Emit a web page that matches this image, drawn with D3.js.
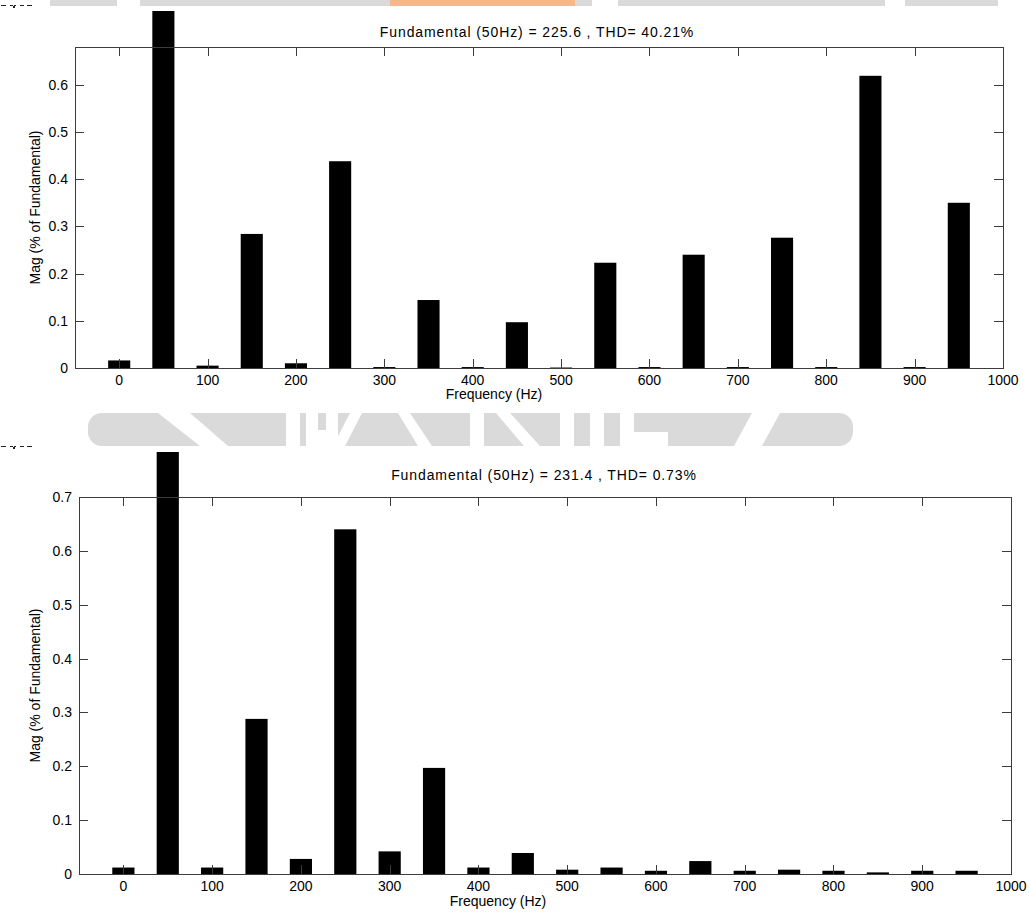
<!DOCTYPE html>
<html>
<head>
<meta charset="utf-8">
<script src="https://cdn.jsdelivr.net/npm/d3@7"></script>
<style>
  html, body { margin: 0; padding: 0; background: #ffffff; }
  svg { display: block; }
  text { font-family: "Liberation Sans", Arial, Helvetica, sans-serif; fill: #000; }
</style>
</head>
<body>
<svg id="chart" width="1029" height="917"></svg>
<script>
// Harmonic spectrum, 0..950 Hz in 50 Hz steps (magnitude as fraction of fundamental)
const frequencies = [0, 50, 100, 150, 200, 250, 300, 350, 400, 450, 500, 550, 600, 650, 700, 750, 800, 850, 900, 950];
const magnitudesBefore = [0.016, 1.0, 0.005, 0.284, 0.010, 0.438, 0.002, 0.144, 0.002, 0.097, 0.001, 0.223, 0.002, 0.240, 0.002, 0.276, 0.002, 0.619, 0.002, 0.350];
const magnitudesAfter = [0.012, 1.0, 0.012, 0.288, 0.028, 0.640, 0.042, 0.197, 0.012, 0.039, 0.008, 0.012, 0.006, 0.024, 0.006, 0.008, 0.006, 0.003, 0.006, 0.006];
const frequencyTicks = [0, 100, 200, 300, 400, 500, 600, 700, 800, 900, 1000];
const magnitudeTicksBefore = [0, 0.1, 0.2, 0.3, 0.4, 0.5, 0.6];
const magnitudeTicksAfter = [0, 0.1, 0.2, 0.3, 0.4, 0.5, 0.6, 0.7];
const titleBefore = "Fundamental (50Hz) = 225.6 , THD= 40.21%";
const titleAfter = "Fundamental (50Hz) = 231.4 , THD= 0.73%";
const xLabelText = "Frequency (Hz)";
const yLabelText = "Mag (% of Fundamental)";
const frequencyDomain = [-50, 1000];
const barWidthHz = 25;

const svg = d3.select("#chart");
const defs = svg.append("defs");

// ---- page background band (journal header strip) ----
const band = svg.append("g").attr("class", "page-band");
band.append("rect").attr("x", 50).attr("y", 0).attr("width", 948).attr("height", 6).attr("fill", "#dadada");
band.append("rect").attr("x", 390).attr("y", 0).attr("width", 185).attr("height", 6).attr("fill", "#f3b98c");
[[117, 23], [592, 26], [885, 20]].forEach(([x, w]) =>
  band.append("rect").attr("x", x).attr("y", 0).attr("width", w).attr("height", 6).attr("fill", "#fff"));

// ---- logo strip between the two figures ----
const logo = svg.append("g").attr("class", "logo-strip");
logo.append("rect").attr("x", 88).attr("y", 413).attr("width", 765).attr("height", 33)
  .attr("rx", 14).attr("fill", "#dadada");
const white = "#ffffff";
const logoShapes = [
  "M158,413 L190,413 L228,446 L200,446 Z",          // diagonal cut
  "M286,413 L300,413 L300,446 L286,446 Z",          // I
  "M306,413 L318,413 L318,430 L326,430 L326,413 L338,413 L338,446 L306,446 Z", // J foot
  "M350,413 L362,413 L345,446 L333,446 Z",          // A left leg
  "M398,413 L410,413 L432,446 L418,446 Z",          // A right leg
  "M470,413 L484,413 L484,446 L470,446 Z",          // R stem
  "M496,413 L510,413 L540,446 L524,446 Z",          // R leg
  "M560,413 L574,413 L574,446 L560,446 Z",          // I
  "M590,413 L604,413 L604,446 L590,446 Z",          // I
  "M620,413 L634,413 L634,432 L668,432 L668,446 L620,446 Z", // E foot
  "M752,413 L780,413 L762,446 L734,446 Z"           // diagonal cut
];
logoShapes.forEach(d => logo.append("path").attr("d", d).attr("fill", white));

// ---- one spectrum panel ----
function drawPanel(cfg) {
  const g = svg.append("g");
  const x = d3.scaleLinear().domain(frequencyDomain).range([cfg.left, cfg.right]);
  const y = d3.scaleLinear().domain([0, cfg.yMax]).range([cfg.bottom, cfg.top]);

  // lower edge of the figure window caption, the rest lies above the window edge
  const cap = g.append("g").attr("fill", "#222");
  [[1, 5], [10, 3], [14, 2], [20, 4], [27, 5]].forEach(([dx, w]) =>
    cap.append("rect").attr("x", dx).attr("y", cfg.captionY).attr("width", w).attr("height", 1));
  cap.append("rect").attr("x", 13).attr("y", cfg.captionY + 1).attr("width", 2).attr("height", 2);

  // bars may run past the axes, up to the figure edge
  const clipId = "fig-" + cfg.id;
  defs.append("clipPath").attr("id", clipId).append("rect")
    .attr("x", 0).attr("y", cfg.figureTop).attr("width", 1029).attr("height", 917);

  g.append("g").attr("clip-path", `url(#${clipId})`)
    .selectAll("rect").data(cfg.values.map((v, i) => ({ f: frequencies[i], v })))
    .join("rect")
    .attr("x", d => x(d.f - barWidthHz / 2))
    .attr("width", d => x(d.f + barWidthHz / 2) - x(d.f - barWidthHz / 2))
    .attr("y", d => y(d.v))
    .attr("height", d => y(0) - y(d.v))
    .attr("fill", "#000");

  const axisColor = "#3c3c3c";
  const tickLen = 9;
  const axes = g.append("g").attr("stroke", axisColor).attr("stroke-width", 1).attr("shape-rendering", "crispEdges");
  // box
  axes.append("rect")
    .attr("x", cfg.left).attr("y", cfg.top)
    .attr("width", cfg.right - cfg.left).attr("height", cfg.bottom - cfg.top)
    .attr("fill", "none");
  // x ticks on bottom and top, pointing inward
  frequencyTicks.forEach(t => {
    const px = Math.round(x(t)) + 0.5;
    axes.append("line").attr("x1", px).attr("x2", px).attr("y1", cfg.bottom).attr("y2", cfg.bottom - tickLen);
    axes.append("line").attr("x1", px).attr("x2", px).attr("y1", cfg.top).attr("y2", cfg.top + tickLen);
  });
  // y ticks on left and right, pointing inward
  cfg.yTicks.forEach(t => {
    const py = Math.round(y(t)) + 0.5;
    axes.append("line").attr("x1", cfg.left).attr("x2", cfg.left + tickLen).attr("y1", py).attr("y2", py);
    axes.append("line").attr("x1", cfg.right).attr("x2", cfg.right - tickLen).attr("y1", py).attr("y2", py);
  });

  // tick labels
  g.append("g").selectAll("text").data(frequencyTicks).join("text")
    .attr("x", d => x(d)).attr("y", cfg.bottom + 17)
    .attr("text-anchor", "middle").style("font-size", "14px")
    .text(d => d3.format("d")(d));
  g.append("g").selectAll("text").data(cfg.yTicks).join("text")
    .attr("x", cfg.left - 7).attr("y", d => y(d) + 5)
    .attr("text-anchor", "end").style("font-size", "14px")
    .text(d => d === 0 ? "0" : d3.format(".1f")(d));

  // title and axis labels
  g.append("text").attr("x", cfg.titleX).attr("y", cfg.titleY)
    .attr("text-anchor", "middle").style("font-size", "14px").style("letter-spacing", "0.9px")
    .text(cfg.title);
  g.append("text").attr("x", cfg.xLabelX).attr("y", cfg.xLabelY)
    .attr("text-anchor", "middle").style("font-size", "14px")
    .text(xLabelText);
  g.append("text")
    .attr("transform", `translate(${cfg.yLabelX},${(cfg.top + cfg.bottom) / 2}) rotate(-90)`)
    .attr("text-anchor", "middle").style("font-size", "14px")
    .text(yLabelText);
}

drawPanel({
  id: "before", values: magnitudesBefore, yMax: 0.68, yTicks: magnitudeTicksBefore,
  left: 75, right: 1003, top: 47, bottom: 368, figureTop: 11, captionY: 5,
  title: titleBefore, titleX: 537, titleY: 37,
  xLabelX: 494, xLabelY: 399, yLabelX: 40
});

drawPanel({
  id: "after", values: magnitudesAfter, yMax: 0.7, yTicks: magnitudeTicksAfter,
  left: 79, right: 1011, top: 497, bottom: 874, figureTop: 452, captionY: 446,
  title: titleAfter, titleX: 544, titleY: 480,
  xLabelX: 498, xLabelY: 906, yLabelX: 40
});
</script>
</body>
</html>
